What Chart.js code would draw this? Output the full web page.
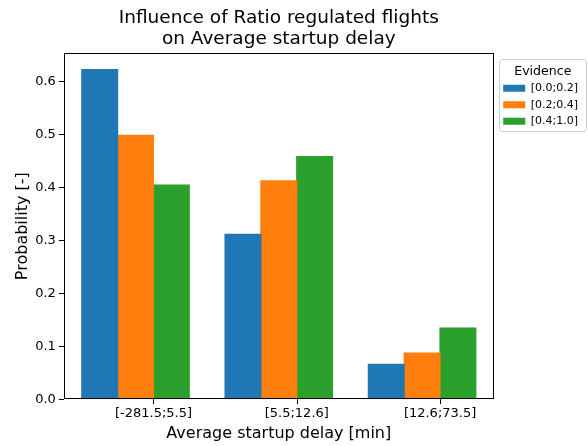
<!DOCTYPE html>
<html>
<head>
<meta charset="utf-8">
<script src="https://cdn.jsdelivr.net/npm/chart.js@4"></script>
<style>
  html, body { margin: 0; padding: 0; background: #fff; }
</style>
</head>
<body>
<canvas id="chart" width="588" height="446"></canvas>
<script>
const CATEGORIES = ["[-281.5;5.5]", "[5.5;12.6]", "[12.6;73.5]"];
const EVIDENCE_LABELS = ["[0.0;0.2]", "[0.2;0.4]", "[0.4;1.0]"];
const LOW_EVIDENCE = [0.622, 0.311, 0.066];
const MID_EVIDENCE = [0.498, 0.412, 0.087];
const HIGH_EVIDENCE = [0.404, 0.458, 0.134];
const COLORS = ["#1f77b4", "#ff7f0e", "#2ca02c"];

Chart.defaults.font.family = "'DejaVu Sans', sans-serif";
Chart.defaults.color = "#000";

// matplotlib-like frame, x tick marks at the orange/green boundary, legend box
const framePlugin = {
  id: "frame",
  afterLayout(chart) {
    // push legend entries a little away from the axes, like matplotlib's borderpad
    chart.legend.left += 4;
    chart.legend.right += 4;
  },
  afterDraw(chart) {
    const { ctx, chartArea: a } = chart;
    ctx.save();
    ctx.strokeStyle = "#000";
    ctx.lineWidth = 1;
    ctx.strokeRect(Math.round(a.left) + 0.5, Math.round(a.top) + 0.5,
      Math.round(a.right - a.left) - 1, Math.round(a.bottom - a.top) - 1);

    const mid = chart.getDatasetMeta(1);
    ctx.beginPath();
    mid.data.forEach((bar) => {
      const x = Math.round(bar.x + bar.width / 2) + 0.5;
      ctx.moveTo(x, a.bottom);
      ctx.lineTo(x, a.bottom + 5);
    });
    ctx.stroke();

    const boxes = chart.legend.legendHitBoxes;
    const last = boxes[boxes.length - 1];
    const left = Math.round(a.right) + 5.5;
    const top = Math.round(a.top) + 6.5;
    const right = chart.width - 1.5;
    const bottom = Math.round(last.top + last.height) + 4.5;
    ctx.strokeStyle = "#cccccc";
    ctx.beginPath();
    ctx.roundRect(left, top, right - left, bottom - top, 3);
    ctx.stroke();
    ctx.restore();
  },
};

new Chart(document.getElementById("chart").getContext("2d"), {
  type: "bar",
  data: {
    labels: CATEGORIES,
    datasets: [
      { label: EVIDENCE_LABELS[0], data: LOW_EVIDENCE, backgroundColor: COLORS[0] },
      { label: EVIDENCE_LABELS[1], data: MID_EVIDENCE, backgroundColor: COLORS[1] },
      { label: EVIDENCE_LABELS[2], data: HIGH_EVIDENCE, backgroundColor: COLORS[2] },
    ],
  },
  options: {
    responsive: false,
    animation: false,
    layout: { padding: { top: 0, right: 4, bottom: 3, left: 13 } },
    datasets: {
      bar: { categoryPercentage: 0.75, barPercentage: 1.0, borderWidth: 0, inflateAmount: 0.6 },
    },
    plugins: {
      title: {
        display: true,
        fullSize: false,
        text: ["Influence of Ratio regulated flights", "on Average startup delay"],
        font: { size: 18.5, weight: "normal", lineHeight: 1.14 },
        padding: { top: 8, bottom: 3 },
      },
      legend: {
        position: "right",
        align: "start",
        fullSize: false,
        title: {
          display: true,
          text: "Evidence",
          font: { size: 12.6 },
          padding: { top: 12, bottom: -3 },
        },
        labels: {
          boxWidth: 22,
          boxHeight: 7,
          font: { size: 11 },
          padding: 5.5,
        },
      },
      tooltip: { enabled: false },
    },
    scales: {
      x: {
        grid: { display: false },
        border: { display: false },
        ticks: { font: { size: 13 }, labelOffset: 18, padding: -1, maxRotation: 0 },
        title: {
          display: true,
          text: "Average startup delay [min]",
          font: { size: 16 },
          padding: { top: 3, bottom: 0 },
        },
      },
      y: {
        min: 0,
        max: 0.653,
        grid: { drawOnChartArea: false, color: "#000", tickLength: 5 },
        border: { display: false },
        ticks: {
          stepSize: 0.1,
          includeBounds: false,
          font: { size: 13 },
          padding: 3,
          callback: (v) => v.toFixed(1),
        },
        title: {
          display: true,
          text: "Probability [-]",
          font: { size: 16 },
          padding: { top: 0, bottom: 0 },
        },
      },
    },
  },
  plugins: [framePlugin],
});
</script>
</body>
</html>
